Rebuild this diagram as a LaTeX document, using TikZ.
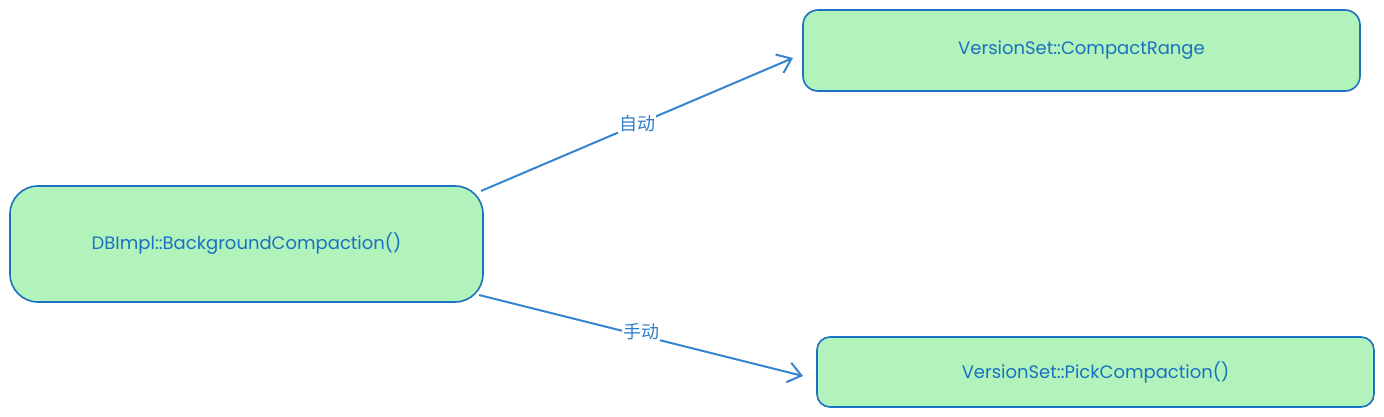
\documentclass[tikz,border=0pt]{standalone}
\usepackage{fontspec}
\setmainfont{Poppins}
\newfontfamily\cjk{Noto Sans CJK SC}
\usetikzlibrary{arrows.meta}
\definecolor{boxfill}{HTML}{B2F2BB}
\definecolor{boxline}{HTML}{1971C2}
\definecolor{arrowcol}{HTML}{3584CF}
\definecolor{labcol}{HTML}{2F7FCC}
\tikzset{
  procbox/.style={draw=boxline, fill=boxfill, line width=1.6pt},
  conn/.style={draw=arrowcol, line width=2pt, -{Straight Barb[length=13pt,width=20pt,line width=2pt]}},
  boxtext/.style={text=boxline, font=\fontsize{18}{21}\selectfont},
  lab/.style={fill=white, text=labcol, font=\cjk\fontsize{18}{20}\selectfont, inner sep=1pt}
}
\begin{document}
\begin{tikzpicture}[x=1pt,y=-1pt]
\useasboundingbox (0,0) rectangle (1384,417);
\draw[procbox, rounded corners=28pt] (10,186) rectangle (483,302);
\node[boxtext] (a) at (246.5,244) {DBImpl::BackgroundCompaction()};
\draw[procbox, rounded corners=15pt] (803,10) rectangle (1360,91);
\node[boxtext] (b) at (1081.5,50.5) {VersionSet::CompactRange};
\draw[procbox, rounded corners=13pt] (817,337) rectangle (1374,407);
\node[boxtext] (c) at (1095.5,372) {VersionSet::PickCompaction()};
\coordinate (a1) at (481,191);
\coordinate (b1) at (793,58);
\coordinate (a2) at (479,295);
\coordinate (c1) at (803,376);
\draw[conn] (a1) -- (b1);
\draw[conn] (a2) -- (c1);
\node[lab] (l1) at (637,124) {自动};
\node[lab] (l2) at (641,332) {手动};
\end{tikzpicture}
\end{document}
